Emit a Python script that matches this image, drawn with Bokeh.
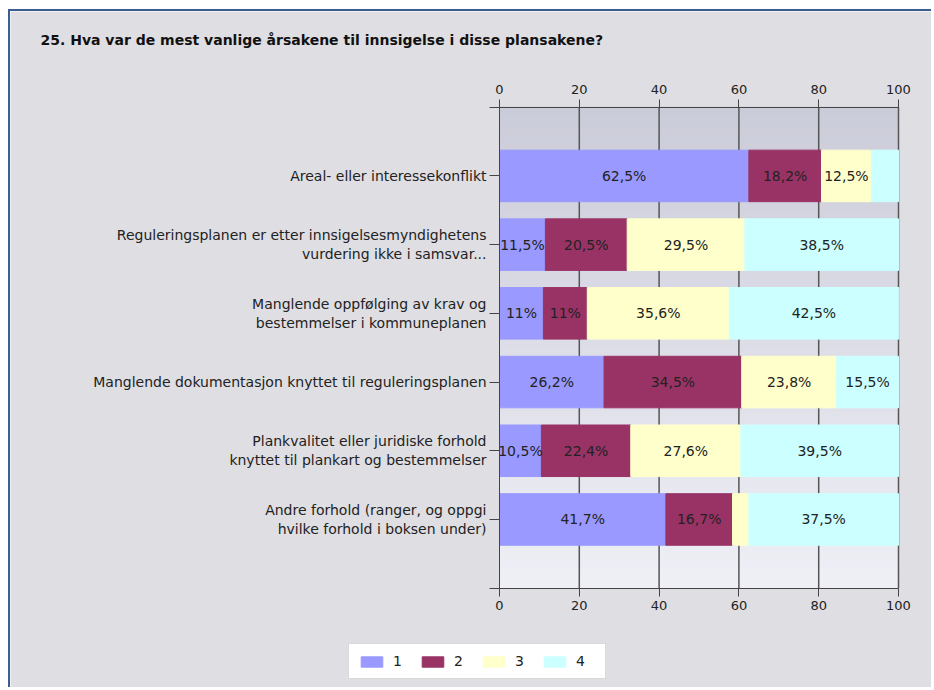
from bokeh.plotting import figure
from bokeh.models import (ColumnDataSource, FixedTicker, LinearAxis, Legend, LegendItem,
                          Range1d, Label)
from bokeh.core.properties import value
from bokeh.embed import file_html
from bokeh.resources import INLINE
import numpy as np

title_text = "25. Hva var de mest vanlige årsakene til innsigelse i disse plansakene?"
categories = [
    "Areal- eller interessekonflikt",
    "Reguleringsplanen er etter innsigelsesmyndighetens\nvurdering ikke i samsvar...",
    "Manglende oppfølging av krav og\nbestemmelser i kommuneplanen",
    "Manglende dokumentasjon knyttet til reguleringsplanen",
    "Plankvalitet eller juridiske forhold\nknyttet til plankart og bestemmelser",
    "Andre forhold (ranger, og oppgi\nhvilke forhold i boksen under)",
]
series_names = ["1", "2", "3", "4"]
s1 = [62.5, 11.5, 11.0, 26.2, 10.5, 41.7]
s2 = [18.2, 20.5, 11.0, 34.5, 22.4, 16.7]
s3 = [12.5, 29.5, 35.6, 23.8, 27.6, 4.1]
s4 = [6.8, 38.5, 42.5, 15.5, 39.5, 37.5]
colors = ["#9999ff", "#993366", "#ffffcc", "#ccffff"]
x_ticks = [0, 20, 40, 60, 80, 100]

FONT = "DejaVu Sans"
PANEL = "#dfdee2"
n = len(categories)
ypos = list(range(n, 0, -1))

# ---- layout (pixels inside the figure) ----
W, H = 923, 678
PL, PR = 489.0, 888.0      # plot area left/right
PT, PB = 95.7, 576.7       # plot area top/bottom
x0, x1 = x_ticks[0], x_ticks[-1]
y0, y1 = 0, n + 1
sx = (PR - PL) / (x1 - x0)
sy = (PB - PT) / (y1 - y0)
def px_x(px):
    return x0 + (px - PL) / sx
def px_y(py):
    return y1 + (PT - py) / sy

p = figure(width=W, height=H, output_backend="svg", toolbar_location=None,
           x_range=Range1d(px_x(0), px_x(W)), y_range=Range1d(px_y(H), px_y(0)),
           min_border_left=0, min_border_right=0, min_border_top=0, min_border_bottom=0)
p.border_fill_color = PANEL
p.background_fill_color = PANEL
p.outline_line_color = None
p.grid.visible = False
p.styles = {"margin-left": "8px", "margin-top": "9px",
            "border-left": "2px solid #3c5d8f", "border-top": "2px solid #3c5d8f"}

# background gradient of the plotting area
bands = 70
edges = np.linspace(y0, y1, bands + 1)
top_c = np.array([0xcb, 0xcc, 0xd9])
bot_c = np.array([0xef, 0xef, 0xf6])
band_cols = []
for i in range(bands):
    t = (i + 0.5) / bands
    c = bot_c + (top_c - bot_c) * t
    band_cols.append("#%02x%02x%02x" % tuple(int(round(v)) for v in c))
p.quad(left=x0, right=x1, bottom=edges[:-1], top=edges[1:],
       fill_color=band_cols, line_color=band_cols, level="image")

# vertical grid lines
p.segment(x0=x_ticks[1:], y0=[y0] * (len(x_ticks) - 1), x1=x_ticks[1:], y1=[y1] * (len(x_ticks) - 1),
          line_color="#555555", line_width=1.5, level="underlay")

src = ColumnDataSource(dict(y=ypos, s1=s1, s2=s2, s3=s3, s4=s4))
rs = p.hbar_stack(["s1", "s2", "s3", "s4"], y="y", height=0.75, color=colors, source=src)

# value labels
def fmt(v):
    return f"{v:g}".replace(".", ",") + "%"

lx, ly, lt = [], [], []
for i in range(n):
    left = 0.0
    for ser in (s1, s2, s3, s4):
        v = ser[i]
        if v >= 8:
            lx.append((left + min(left + v, x1)) / 2)
            ly.append(ypos[i])
            lt.append(fmt(v))
        left += v
p.text(x="x", y="y", text="t", source=ColumnDataSource(dict(x=lx, y=ly, t=lt)),
       text_align="center", text_baseline="middle", text_font=value(FONT),
       text_font_size="14px", text_color="#222222")

# axes (fixed to the plot area)
bottom_axis = p.xaxis[0]
bottom_axis.fixed_location = y0
top_axis = LinearAxis(fixed_location=y1)
p.add_layout(top_axis, "above")
for ax in [bottom_axis, top_axis]:
    ax.ticker = FixedTicker(ticks=x_ticks)
    ax.bounds = (px_x(PL - 10), x1)
    ax.major_tick_out = 8
    ax.major_tick_in = 0
    ax.minor_tick_line_color = None
    ax.axis_line_color = "#444444"
    ax.major_tick_line_color = "#444444"
    ax.major_label_text_font = FONT
    ax.major_label_text_font_size = "13px"
    ax.major_label_text_color = "#222222"
    ax.major_label_standoff = 5

ya = p.yaxis[0]
ya.fixed_location = x0
ya.bounds = (y0, y1)
ya.ticker = FixedTicker(ticks=ypos)
ya.major_label_overrides = {y: c for y, c in zip(ypos, categories)}
ya.major_tick_out = 10
ya.major_tick_in = 0
ya.minor_tick_line_color = None
ya.axis_line_color = "#444444"
ya.major_tick_line_color = "#444444"
ya.major_label_text_font = FONT
ya.major_label_text_font_size = "14px"
ya.major_label_text_color = "#222222"
ya.major_label_standoff = 3

# title
p.add_layout(Label(x=px_x(30), y=px_y(28), text=title_text, text_font=FONT,
                   text_font_size="14px", text_font_style="bold", text_color="#111111",
                   text_baseline="middle", text_align="left"))

legend = Legend(items=[LegendItem(label=nm, renderers=[r]) for nm, r in zip(series_names, rs)],
                orientation="horizontal", location=(338, 10))
legend.glyph_width = 27
legend.glyph_height = 13
legend.label_standoff = 8
legend.label_width = 20
legend.label_height = 13
legend.spacing = 6
legend.padding = 9
legend.margin = 0
legend.border_line_color = "#b4b4b4"
legend.border_line_width = 1.5
legend.background_fill_color = "white"
legend.background_fill_alpha = 1
legend.label_text_font = FONT
legend.label_text_font_size = "14px"
legend.label_text_color = "#222222"
p.add_layout(legend)

open("out.html", "w").write(file_html(p, INLINE))
